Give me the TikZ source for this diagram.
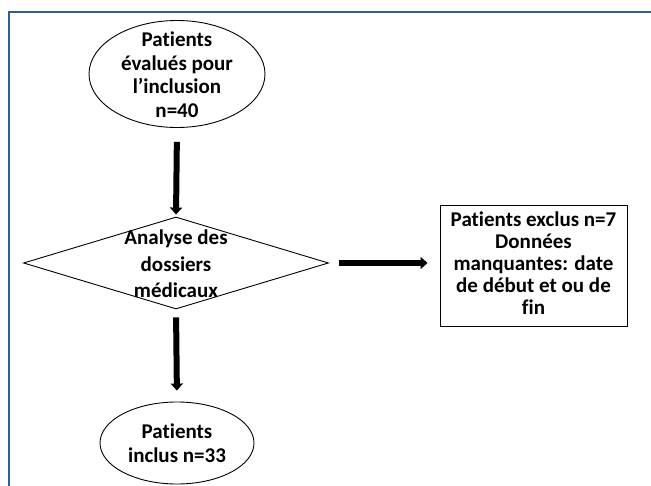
\documentclass[tikz,border=0pt]{standalone}
\usepackage{fontspec}
\setmainfont{Carlito}[Ligatures=CommonOff]
\usetikzlibrary{arrows.meta,positioning,shapes.geometric}

\definecolor{framecol}{RGB}{47,94,145}

\tikzset{
  startend/.style={ellipse,draw,line width=0.9pt,inner sep=0pt},
  decision/.style={diamond,draw,line width=0.9pt,inner sep=0pt},
  exclbox/.style={rectangle,draw,line width=0.9pt,inner sep=0pt},
  txt/.style={align=center,inner sep=0pt,font=\fontsize{21}{#1}\selectfont\bfseries},
  txt/.default=23,
  flow/.style={line width=6pt,-{Triangle[length=7pt,width=12pt]}},
}

\begin{document}
\begin{tikzpicture}[x=1pt,y=-1pt]
        \useasboundingbox (0,0) rectangle (651,486);

        % page frame
        \draw[framecol,line width=2pt] (9,486) -- (9,12) -- (651,12);

        % Ellipses
        \node[startend,minimum width=176pt,minimum height=107pt,
              label={[txt=23.5,yshift=-0.5pt]center:{Patients\\évalués pour\\l’inclusion\\n=40}}] (evalues) at (177,74) {};
        \node[startend,minimum width=154pt,minimum height=82pt,
              label={[txt=24]center:{Patients\\inclus n=33}}] (inclus) at (177,443) {};

        % Decision
        \node[decision,minimum width=305pt,minimum height=92pt,
              label={[txt=26.5,yshift=-1pt]center:{Analyse des\\dossiers\\médicaux}}] (analyse) at (176,263) {};

        % Excluded patients
        \node[exclbox,minimum width=187pt,minimum height=121pt,
              label={[txt=22,yshift=2pt]center:{Patients exclus n=7\\Données\\manquantes: date\\de début et ou de\\fin}}] (exclus) at (533.5,265.5) {};

        % Arrows
        \draw[flow,shorten <=14pt,shorten >=2pt] (evalues.south) -- (analyse.north);
        \draw[flow,shorten <=8pt,shorten >=11pt] (analyse.south) -- (inclus.north);
        \draw[flow,shorten <=10pt,shorten >=12pt] (analyse.east) -- (analyse.east -| exclus.west);

\end{tikzpicture}
\end{document}
